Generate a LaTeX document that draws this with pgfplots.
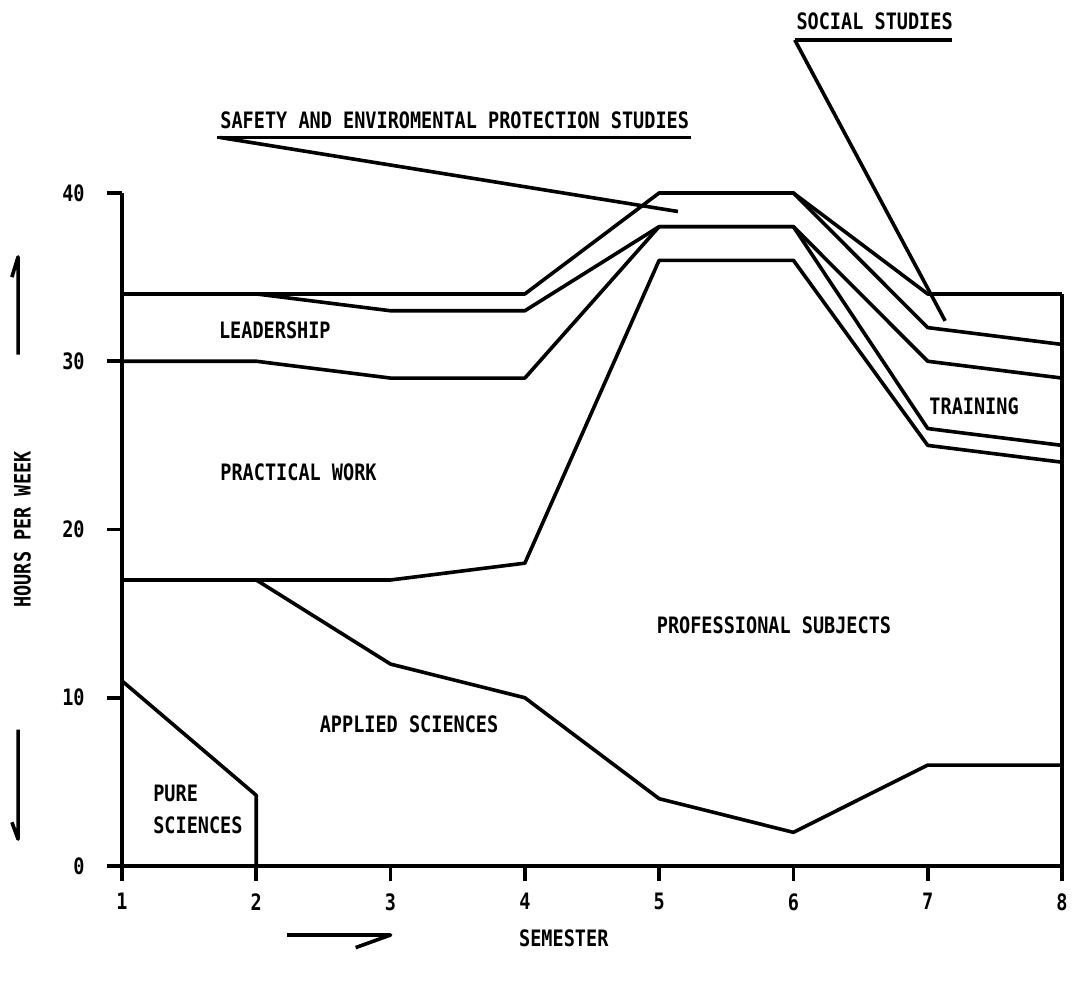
\documentclass[border=0pt]{standalone}
\usepackage{fontspec}
\setmainfont{DejaVu Sans Mono}[FakeStretch=0.82, UprightFont={* Bold}]
\usepackage{pgfplots}
\pgfplotsset{compat=1.18}
\begin{document}
\begin{tikzpicture}
\useasboundingbox (-61pt,-57.5pt) rectangle (475pt,433pt);
\begin{axis}[
  scale only axis, width=470pt, height=336.5pt,
  xmin=1, xmax=8, ymin=0, ymax=40, enlargelimits=false,
  axis lines*=left,
  axis line style={-, line width=1.8pt, black},
  xtick={1,2,3,4,5,6,7,8}, ytick={0,10,20,30,40},
  tick align=outside, major tick length=7.5pt,
  xtick pos=bottom, ytick pos=left,
  every tick/.style={line width=1.8pt, black},
  xtick style={line width=1.8pt, black},
  ytick style={line width=1.8pt, black},
  /pgf/number format/assume math mode=true,
  ticklabel style={font=\fontsize{11.3}{13}\selectfont},
  yticklabel style={xshift=-11pt},
  xticklabel style={yshift=-6pt},
  xlabel={SEMESTER}, ylabel={HOURS PER WEEK},
  label style={font=\fontsize{11.3}{13}\selectfont},
  xlabel style={at={(rel axis cs:0.47,-0.107)}, anchor=center},
  ylabel style={at={(rel axis cs:-0.106,0.5)}, anchor=center},
  clip=false,
  cycle list={{black}},
  no markers,
  every axis plot post/.append style={line width=1.8pt, line join=round, solid},
  nodes={font=\fontsize{11.3}{13}\selectfont, inner sep=0pt},
]
% pure sciences
\addplot coordinates {(1,11) (2,4.2) (2,0)};
% applied sciences (upper boundary)
\addplot coordinates {(1,17) (2,17) (3,12) (4,10) (5,4) (6,2) (7,6) (8,6)};
% professional subjects (upper boundary)
\addplot coordinates {(1,17) (2,17) (3,17) (4,18) (5,36) (6,36) (7,25) (8,24)};
% practical work / training boundary
\addplot coordinates {(1,30) (2,30) (3,29) (4,29) (5,38) (6,38) (7,26) (8,25)};
% leadership boundary
\addplot coordinates {(1,34) (2,34) (3,33) (4,33) (5,38) (6,38) (7,30) (8,29)};
% social studies boundary
\addplot coordinates {(5,40) (6,40) (7,32) (8,31)};
% top
\addplot coordinates {(1,34) (2,34) (3,34) (4,34) (5,40) (6,40) (7,34) (8,34)};
% right frame
\addplot coordinates {(8,0) (8,34)};

% x tick marks below the axis
\pgfplotsinvokeforeach{1,2,3,4,5,6,7,8}{\draw[line width=1.8pt] (axis cs:#1,0) -- (axis cs:#1,-0.9);}

% region labels
\node[anchor=west] at (axis cs:1.72,31.85) {LEADERSHIP};
\node[anchor=west] at (axis cs:1.73,23.4) {PRACTICAL WORK};
\node[anchor=west] at (axis cs:4.98,14.3) {PROFESSIONAL SUBJECTS};
\node[anchor=west] at (axis cs:2.47,8.4) {APPLIED SCIENCES};
\node[anchor=west] at (axis cs:1.23,4.34) {PURE};
\node[anchor=west] at (axis cs:1.23,2.44) {SCIENCES};
\node[anchor=west] at (axis cs:7.01,27.3) {TRAINING};

% callouts
\node[anchor=base west] at (axis cs:1.73,43.85) {SAFETY AND ENVIROMENTAL PROTECTION STUDIES};
\draw[line width=1.8pt] (axis cs:1.71,43.3) -- (axis cs:5.24,43.3);
\draw[line width=1.8pt] (axis cs:1.73,43.3) -- (axis cs:5.14,38.9);
\node[anchor=base west] at (axis cs:6.02,49.7) {SOCIAL STUDIES};
\draw[line width=1.8pt] (axis cs:6.01,49.1) -- (axis cs:7.18,49.1);
\draw[line width=1.8pt] (axis cs:6.01,49.1) -- (axis cs:7.13,32.4);

% hand-drawn arrows beside the axis titles
\draw[line width=1.8pt, line join=round] (axis cs:0.226,30.4) -- (axis cs:0.226,36.2) -- (axis cs:0.18,35.0);
\draw[line width=1.8pt, line join=round] (axis cs:0.226,8.1) -- (axis cs:0.226,1.6) -- (axis cs:0.18,2.6);
\draw[line width=1.8pt, line join=round] (axis cs:2.23,-4.1) -- (axis cs:3.0,-4.1) -- (axis cs:2.74,-4.85);
\end{axis}
\end{tikzpicture}
\end{document}
